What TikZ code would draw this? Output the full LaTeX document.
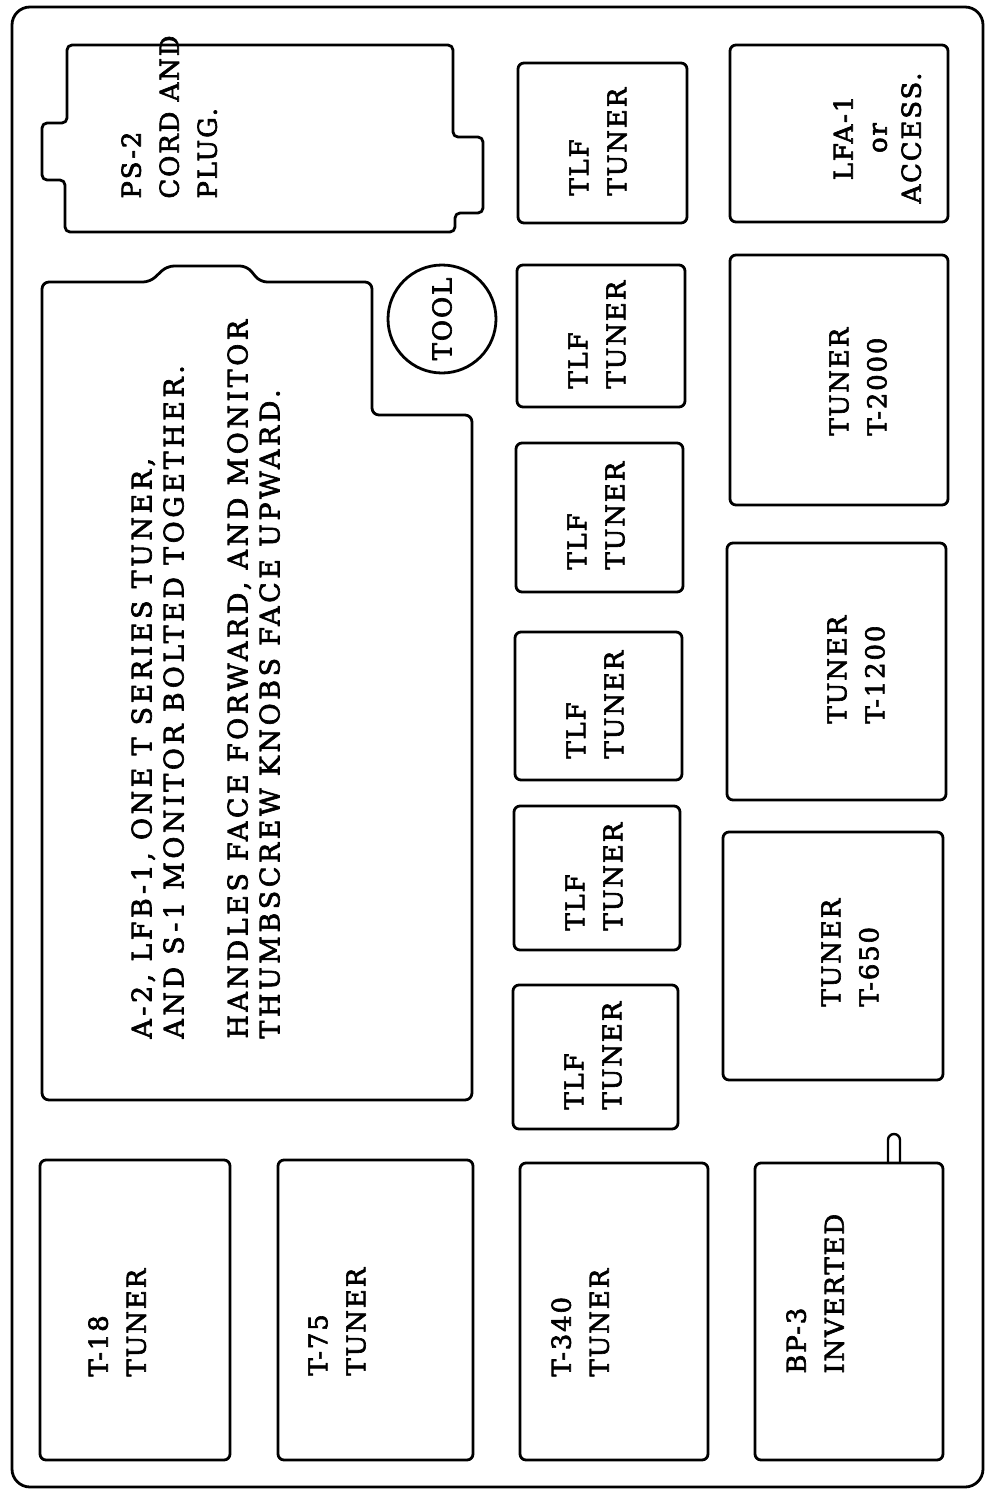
\documentclass[tikz,border=0pt]{standalone}
\usepackage{fontspec}
\setmainfont{DejaVu Serif}
\newfontfamily\lblfont{DejaVu Serif}[LetterSpace=7,FakeBold=2.4]
\newfontfamily\bigtxtfont{DejaVu Serif}[LetterSpace=13,FakeBold=2.4]
\begin{document}
\begin{tikzpicture}[x=1pt,y=-1pt,line width=2.8pt,line join=round,
  box/.style={draw,rounded corners=6pt},
  lbl/.style={rotate=90,inner sep=0pt,align=left,anchor=north west,font=\lblfont\fontsize{26pt}{38pt}\selectfont},
  clbl/.style={rotate=90,inner sep=0pt,align=center,anchor=north,font=\lblfont\fontsize{26pt}{34pt}\selectfont},
  mainlbl/.style={rotate=90,inner sep=0pt,align=left,anchor=north west,font=\bigtxtfont\fontsize{27pt}{32pt}\selectfont}]
\useasboundingbox (0,0) rectangle (985,1491);
% outer frame
\draw[rounded corners=18pt] (12,7) rectangle (983,1487);
% PS-2 cord and plug
\draw[rounded corners=5pt] (67,45) -- (453,45) -- (453,137) -- (483,137) -- (483,213) -- (455,213) -- (455,232)
  -- (65,232) -- (65,180) -- (42,180) -- (42,123) -- (67,123) -- cycle;
\node[lbl] (ps2) at (120,200) {PS-2\\CORD AND\\PLUG.};
% large box
\draw[rounded corners=7pt] (42,282) -- (150,282) -- (167,266) -- (247,266) -- (260,282) -- (372,282)
  -- (372,415) -- (472,415) -- (472,1100) -- (42,1100) -- cycle;
\node[mainlbl] (main) at (130,1040) {A-2, LFB-1, ONE T SERIES TUNER,\\AND S-1 MONITOR BOLTED TOGETHER.\\[32pt]HANDLES FACE FORWARD, AND MONITOR\\THUMBSCREW KNOBS FACE UPWARD.};
% tool
\draw (442,319) circle[radius=54];
\node[rotate=90,inner sep=0pt,font=\lblfont\fontsize{26pt}{32pt}\selectfont] (tool) at (442,319) {TOOL};
% TLF tuners
\draw[box] (518,63) rectangle (687,223);
\draw[box] (517,265) rectangle (685,407);
\draw[box] (516,443) rectangle (683,592);
\draw[box] (515,632) rectangle (682,780);
\draw[box] (514,806) rectangle (680,950);
\draw[box] (513,985) rectangle (678,1129);
\node[lbl] (tlfa) at (568,197) {TLF\\TUNER};
\node[lbl] (tlfb) at (567,390) {TLF\\TUNER};
\node[lbl] (tlfc) at (566,571) {TLF\\TUNER};
\node[lbl] (tlfd) at (565,760) {TLF\\TUNER};
\node[lbl] (tlfe) at (564,932) {TLF\\TUNER};
\node[lbl] (tlff) at (563,1111) {TLF\\TUNER};
% right column
\draw[box] (730,45) rectangle (948,222);
\node[clbl] (lfa) at (832,138) {LFA-1\\or\\ACCESS.};
\draw[box] (730,255) rectangle (948,505);
\node[lbl] (t2000) at (828,437) {TUNER\\T-2000};
\draw[box] (727,543) rectangle (946,800);
\node[lbl] (t1200) at (826,725) {TUNER\\T-1200};
\draw[box] (723,832) rectangle (943,1080);
\node[lbl] (t650) at (820,1008) {TUNER\\T-650};
% bottom row
\draw[box] (40,1160) rectangle (230,1460);
\node[lbl] (t18) at (87,1378) {T-18\\TUNER};
\draw[box] (278,1160) rectangle (473,1460);
\node[lbl] (t75) at (307,1377) {T-75\\TUNER};
\draw[box] (520,1163) rectangle (708,1460);
\node[lbl] (t340) at (550,1378) {T-340\\TUNER};
% BP-3 with its terminal tab
\draw[box] (755,1163) rectangle (943,1460);
\draw[line width=2.4pt] (888,1163) -- (888,1140) arc[start angle=180,end angle=360,radius=6] -- (900,1163);
\node[lbl] (bp3) at (785,1375) {BP-3\\INVERTED};
\end{tikzpicture}
\end{document}
